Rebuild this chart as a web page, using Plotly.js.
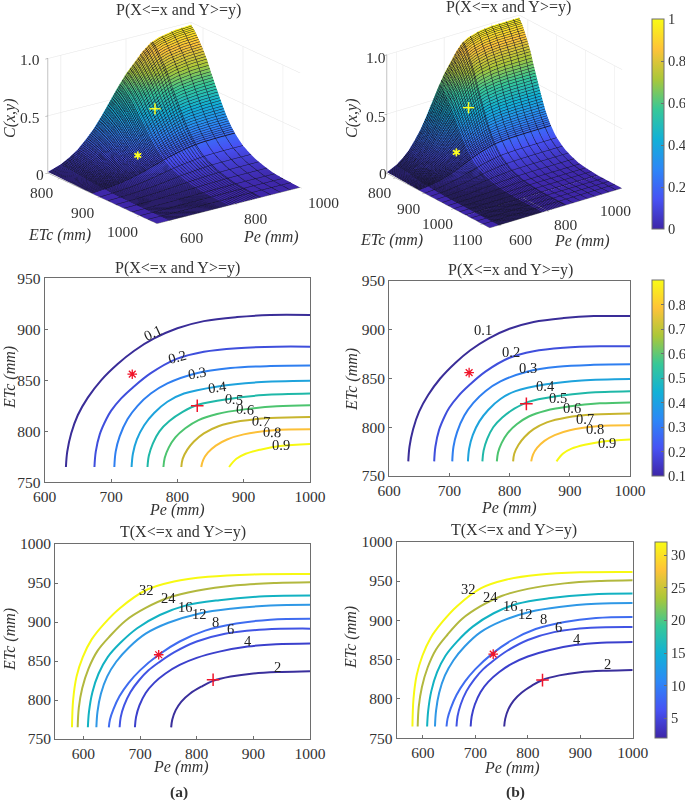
<!DOCTYPE html>
<html><head><meta charset="utf-8">
<script src="https://cdn.plot.ly/plotly-3.0.1.min.js"></script>
<style>html,body{margin:0;padding:0;background:#fff}</style>
</head><body><div id="chart" style="width:685px;height:800px"></div>
<script>
// ---------- surface values ----------
const peGrid = [560,600,625,650,675,700,725,750,775,800,825,850,875,900,950,1000,1115];
const etcGrid = [770,780,790,800,810,820,830,840,850,860,870,880,890,900,915,930,950,975,1000,1043,1125];
const surfaceZ = [
[.010,.049,.088,.137,.206,.284,.382,.490,.598,.696,.774,.853,.911,.941,.970,.980,.980],
[.009,.047,.085,.132,.197,.273,.367,.470,.573,.667,.743,.818,.874,.902,.931,.940,.940],
[.009,.044,.079,.123,.185,.255,.343,.440,.537,.625,.695,.766,.818,.845,.871,.880,.880],
[.008,.041,.073,.114,.171,.236,.318,.408,.497,.579,.644,.709,.758,.782,.807,.815,.815],
[.007,.037,.067,.104,.155,.215,.289,.370,.451,.525,.585,.644,.688,.710,.733,.740,.740],
[.006,.032,.058,.090,.135,.187,.252,.323,.393,.458,.510,.561,.600,.619,.639,.645,.645],
[.006,.028,.050,.078,.118,.162,.218,.280,.342,.398,.442,.487,.521,.538,.554,.560,.560],
[.005,.024,.043,.067,.100,.138,.185,.238,.290,.337,.375,.413,.442,.456,.470,.475,.475],
[.004,.020,.036,.055,.083,.115,.154,.198,.241,.280,.312,.344,.367,.379,.391,.395,.395],
[.003,.016,.029,.045,.067,.093,.125,.160,.195,.227,.253,.278,.298,.307,.317,.320,.320],
[.003,.013,.023,.036,.055,.075,.101,.130,.159,.185,.205,.226,.242,.250,.257,.260,.260],
[.002,.011,.019,.029,.044,.061,.082,.105,.128,.149,.166,.183,.195,.202,.208,.210,.210],
[.002,.009,.015,.024,.036,.049,.066,.085,.104,.121,.134,.148,.158,.163,.168,.170,.170],
[.001,.007,.012,.019,.028,.039,.053,.068,.082,.096,.107,.117,.126,.130,.134,.135,.135],
[.001,.005,.009,.014,.021,.029,.039,.050,.061,.071,.079,.087,.093,.096,.099,.100,.100],
[.001,.004,.006,.010,.015,.020,.027,.035,.043,.050,.055,.061,.065,.067,.069,.070,.070],
[0,.002,.004,.006,.009,.013,.018,.023,.027,.032,.036,.039,.042,.043,.045,.045,.045],
[0,.001,.002,.003,.004,.006,.008,.010,.012,.014,.016,.017,.019,.019,.020,.020,.020],
[0,.001,.001,.001,.002,.003,.004,.005,.006,.007,.008,.009,.009,.010,.010,.010,.010],
[0,0,0,0,0,0,0,0,0,0,0,0,0,0,0,0,0],
[0,0,0,0,0,0,0,0,0,0,0,0,0,0,0,0,0]
];
// marked points: [Pe, ETc, value], lifted slightly off the surface toward the viewer
const plus3dA = [803,840,0.50], star3dA = [713,870,0.207];
const plus3dB = [817,840,0.49], star3dB = [729,870,0.205];

// ---------- probability contours ----------
const probLevels = ['0.1','0.2','0.3','0.4','0.5','0.6','0.7','0.8','0.9'];
const probValues = [.1,.2,.3,.4,.5,.6,.7,.8,.9];
const probColors = ['#3a2d98','#3f4fdc','#2f7ff0','#1ea3dc','#1fb8a8','#4cc46f','#c8b52e','#fcc038','#f7f912'];
const probX = [
[632,634,640,650,665,685,710,735,765,800,840,890,940,1000],
[675,677,683,693,700,715,733,760,799,840,890,950,1000],
[705,707,713,725,740,760,785,829,880,940,1000],
[731,733,739,750,765,785,810,861,920,1000],
[755,757,763,773,788,808,831,880,930,1000],
[779,781,787,797,812,832,860,901,950,1000],
[806,808,815,825,840,862,895,940,1000],
[836,839,846,858,875,900,945,1000],
[878,889,903,925,955,1000]];
const probY = [
[765,780,798,816,833,850,866,879,891,901,908,912,914,914],
[765,780,797,812,820,832,843,857,871,878,881.5,883,883],
[765,780,795,812,825,837,847,857,862,864,864.5],
[765,778,792,806,818,829,837,844,848,849.5],
[765,776,788,800,810,819,826,832,835.5,837],
[765,774,784,794,803,811,817,821.5,824.5,825.5],
[765,773,782,790,798,805,810,813,814],
[765,772,779,786,792,797,801,802],
[765,773,778,782,785.5,787.5]];
const probLabelXA = [762.6,799,829,861,885,901.6,926.7,943,957];
const probLabelYA = [896,873,857,843,832,821.5,810.5,799,786.6];
const probLabelAngleA = [-25,-15,-10,-7,5,5,5,3,0];
const probLabelXB = [756.6,802,831,859,881,903,925,942,961];
const probLabelYB = [899.7,877.5,860.4,842,830.3,820,808,798,784];
const probPlusA = [830,825], probStarA = [732,856];
const probPlusB = [828,824], probStarB = [733,856];

// ---------- return-period contours ----------
const retLevels = ['2','4','6','8','12','16','24','32'];
const retValues = [2,4,6,8,12,16,24,32];
const retColors = ['#3a2f9c','#3b40cc','#4154e4','#3f6cf0','#2f98e6','#12b2c2','#b2b83e','#f7f912'];
const retX = [
[755,757,763,773,788,808,829,860,900,950,1000],
[691,693,699,710,725,745,770,800,840,890,940,1000],
[664,666,672,683,698,715,733,760,800,850,920,1000],
[645,647,653,664,680,700,733,770,815,870,930,1000],
[623,625,631,642,658,680,710,750,805,860,930,1000],
[608,610,616,627,643,665,695,735,780,840,920,1000],
[590,592,598,609,625,647,675,710,750,800,870,940,1000],
[580,582,588,599,615,637,665,711,760,820,900,1000]];
const retY = [
[765,775,787,798,808,817,824.5,830,834,836,837],
[765,778,793,809,822,834,845,854,862,868.5,871.5,872.5],
[765,778,793,810,825,838,848,861,875,885,890.5,891.5],
[765,775,788,805,822,838,858,875,889,898,903,904.3],
[765,785,808,830,849,867,885,899,911,917,921,922],
[765,785,810,834,855,873,892,909,921,928,933,934],
[765,790,815,840,863,882,902,918,931,940,947,950,951],
[765,800,830,855,878,898,918,941,952,958,961,961.5]];
const retLabelXA = [943,890,859,833.5,805,780.5,751,711];
const retLabelYA = [842.7,875.6,890.6,900.4,910,919.6,930.3,941];
const retLabelXB = [952,894,858,830.5,796,767.5,728,687];
const retLabelYB = [844,875.8,891.5,901.7,908.5,918.6,930,939.8];
const retPlusA = [829,826], retStarA = [733,858];
const retPlusB = [828,824], retStarB = [734,857];

const parula = [[0,'#3e26a8'],[1/7,'#4752f4'],[2/7,'#2d87f7'],[3/7,'#12b1d6'],[4/7,'#37c897'],[5/7,'#abc739'],[6/7,'#fec338'],[1,'#f9fb15']];

// ---------- page geometry ----------
const W=685,H=800,PLOT_W=645;
const SERIF='"Liberation Serif","Times New Roman",serif';
const INK='#333333', EDGE='#6e6e6e';
const px=v=>v/PLOT_W, py=v=>1-v/H;
const traces=[];
const annotations=[];
function note(x,y,text,size,extra){annotations.push(Object.assign({xref:'paper',yref:'paper',x:px(x),y:py(y),text,showarrow:false,xanchor:'center',yanchor:'middle',font:{family:SERIF,size,color:INK}},extra||{}));}

// 3-D panels
function transpose(m){return m[0].map((_,i)=>m.map(r=>r[i]));}
function surfacePanel(scene,nPe,nEtc,coloraxis,bands,plus,star){
  const pe=peGrid.slice(0,nPe), etc=etcGrid.slice(0,nEtc);
  const z=transpose(surfaceZ.slice(0,nEtc).map(r=>r.slice(0,nPe)));
  const none={show:false};
  traces.push({type:'surface',scene,x:etc,y:pe,z,coloraxis,
    lighting:{ambient:1,diffuse:0,specular:0,fresnel:0,roughness:1},hoverinfo:'skip',
    contours:{x:none,y:none,z:none}});
  bands.forEach(b=>traces.push({type:'surface',scene,x:etc,y:pe,z,hidesurface:true,showscale:false,
    colorscale:[[0,'#000'],[1,'#000']],hoverinfo:'skip',
    contours:{x:b.x?{show:true,start:b.x[0],end:b.x[1],size:b.x[2],color:'#15152a',width:1,highlight:false}:{show:false,highlight:false},
              y:b.y?{show:true,start:b.y[0],end:b.y[1],size:b.y[2],color:'#15152a',width:1,highlight:false}:{show:false,highlight:false},
              z:{show:false,highlight:false}}}));
  traces.push({type:'scatter3d',scene,mode:'text',textposition:'middle center',x:[plus[1],star[1]],y:[plus[0],star[0]],z:[plus[2],star[2]],
    text:['+','\u2731'],textfont:{family:'DejaVu Sans',size:[18,11],color:'#ffff20'},hoverinfo:'skip',showlegend:false});
}
surfacePanel('scene',16,20,'coloraxis',[{x:[772,880,2.5]},{x:[880,1040,20]},{y:[600,780,4]},{y:[780,880,8]},{y:[880,1000,30]}],plus3dA,star3dA);
surfacePanel('scene2',17,21,'coloraxis',[{x:[772,880,2.5]},{x:[880,1120,20]},{y:[600,780,4]},{y:[780,880,8]},{y:[880,1100,30]}],plus3dB,star3dB);

function sceneLayout(domX,domY,range,eye,aspect,etcTicks,peTicks){
  const ax={showbackground:false,showgrid:true,gridcolor:'#e4e4e4',gridwidth:1,zeroline:false,showspikes:false,
    showline:true,linecolor:'#888',linewidth:1,ticks:'outside',ticklen:3,tickcolor:'#888',
    showticklabels:false,title:{text:''}};
  return {domain:{x:[px(domX[0]),px(domX[1])],y:[py(domY[1]),py(domY[0])]},
    camera:{eye,center:{x:0,y:0,z:0},up:{x:0,y:0,z:1},projection:{type:'orthographic'}},
    aspectmode:'manual',aspectratio:aspect,
    xaxis:Object.assign({},ax,{range:range.etc,tickmode:'array',tickvals:etcTicks}),
    yaxis:Object.assign({},ax,{range:range.pe,tickmode:'array',tickvals:peTicks}),
    zaxis:Object.assign({},ax,{range:[0,1],tickmode:'array',tickvals:[0,.5,1]})};
}

// contour panels
function contourPanel(ax,xs,ys,colors,vals,labels,lx,ly,angles,star,plus,coloraxis){
  xs.forEach((x,i)=>traces.push({type:'scatter',mode:'lines',xaxis:'x'+ax,yaxis:'y'+ax,x,y:ys[i],
    line:{color:colors[i],width:2,shape:'spline',smoothing:1},hoverinfo:'skip',showlegend:false}));
  traces.push({type:'scatter',mode:'markers',xaxis:'x'+ax,yaxis:'y'+ax,x:lx,y:ly,
    marker:{color:vals,coloraxis,size:1,opacity:0},hoverinfo:'skip',showlegend:false});
  traces.push({type:'scatter',mode:'markers',xaxis:'x'+ax,yaxis:'y'+ax,x:[star[0]],y:[star[1]],
    marker:{symbol:'asterisk-open',size:8,color:'#f0142a',line:{color:'#f0142a',width:1.3}},hoverinfo:'skip',showlegend:false});
  traces.push({type:'scatter',mode:'markers',xaxis:'x'+ax,yaxis:'y'+ax,x:[plus[0]],y:[plus[1]],
    marker:{symbol:'cross-thin-open',size:9,color:'#f0142a',line:{color:'#f0142a',width:1.5}},hoverinfo:'skip',showlegend:false});
  labels.forEach((t,i)=>annotations.push({xref:'x'+ax,yref:'y'+ax,x:lx[i],y:ly[i],text:t,showarrow:false,
    textangle:angles?angles[i]:0,font:{family:SERIF,size:14.5,color:'#222'},xanchor:'center',yanchor:'middle'}));
}
contourPanel('',probX,probY,probColors,probValues,probLevels,probLabelXA,probLabelYA,probLabelAngleA,probStarA,probPlusA,'coloraxis2');
contourPanel('2',probX,probY,probColors,probValues,probLevels,probLabelXB,probLabelYB,null,probStarB,probPlusB,'coloraxis2');
contourPanel('3',retX,retY,retColors,retValues,retLevels,retLabelXA,retLabelYA,null,retStarA,retPlusA,'coloraxis3');
contourPanel('4',retX,retY,retColors,retValues,retLevels,retLabelXB,retLabelYB,null,retStarB,retPlusB,'coloraxis3');

function cart(left,right,top,bottom,range,tick){
  const a={showline:true,mirror:true,linecolor:EDGE,linewidth:1,ticks:'inside',ticklen:3,tickcolor:EDGE,showgrid:false,zeroline:false,
    tickfont:{family:SERIF,size:15.5,color:INK},fixedrange:true};
  return [Object.assign({},a,{domain:[px(left),px(right)],range:range[0],tickvals:tick[0],ticktext:tick[0].map(String)}),
          Object.assign({},a,{domain:[py(bottom),py(top)],range:range[1],tickvals:tick[1],ticktext:tick[1].map(String)})];
}
const xP=[600,700,800,900,1000], yP=[750,800,850,900,950];
const xT=[600,700,800,900,1000], yT=[750,800,850,900,950,1000];
function setAxes(l,suffix,g){
  g[0].anchor='y'+suffix; g[1].anchor='x'+suffix;
  l['xaxis'+suffix]=g[0]; l['yaxis'+suffix]=g[1];
}
function bar(top,bottom,left,thick,vals,labels){
  return {x:left/W,xanchor:'left',xref:'container',y:py(bottom),yanchor:'bottom',yref:'container',len:bottom-top,lenmode:'pixels',
    thickness:thick,thicknessmode:'pixels',outlinecolor:EDGE,outlinewidth:1,borderwidth:0,xpad:0,ypad:0,
    ticks:'inside',ticklen:3,tickcolor:EDGE,tickmode:'array',tickvals:vals,ticktext:labels,
    tickfont:{family:SERIF,size:14.5,color:INK}};
}
const layout={width:W,height:H,margin:{l:0,r:W-PLOT_W,t:0,b:0,pad:0},paper_bgcolor:'#fff',plot_bgcolor:'#fff',showlegend:false,annotations,
  scene:sceneLayout([6,342],[0,246],{etc:[770,1043],pe:[560,1000]},{x:1.24,y:-.915,z:.562},{x:1.167*192/150,y:1.167*186/150,z:1.249*119/150},[800,900,1000],[600,800,1000]),
  scene2:sceneLayout([367,642],[0,243],{etc:[770,1125],pe:[560,1115]},{x:1.20,y:-.903,z:.654},{x:1.225*172.5/150,y:1.225*166.8/150,z:1.277*125/150},[800,900,1000,1100],[600,800,1000]),
  coloraxis:{colorscale:parula,cmin:0,cmax:1,colorbar:bar(19.5,229,652,12,[0,.2,.4,.6,.8,1],['0','0.2','0.4','0.6','0.8','1'])},
  coloraxis2:{colorscale:parula,cmin:.1,cmax:.9,colorbar:bar(280,476,652,12,[.1,.2,.3,.4,.5,.6,.7,.8],['0.1','0.2','0.3','0.4','0.5','0.6','0.7','0.8'])},
  coloraxis3:{colorscale:parula,cmin:2,cmax:32,colorbar:bar(541.7,738,655,12,[5,10,15,20,25,30],['5','10','15','20','25','30'])}
};
setAxes(layout,'',cart(44.7,310,278.3,482.3,[[600,1000],[750,950]],[xP,yP]));
setAxes(layout,'2',cart(389,630,281,476,[[600,1000],[750,950]],[xP,yP]));
setAxes(layout,'3',cart(55,310,544,739,[[550,1000],[750,1000]],[xT,yT]));
setAxes(layout,'4',cart(396.7,632.7,541.7,738.3,[[550,1000],[750,1000]],[xT,yT]));

const probTitle='P(X&lt;=x and Y&gt;=y)', retTitle='T(X&lt;=x and Y&gt;=y)';
const TS=16;
note(178,10,probTitle,TS); note(508,7,probTitle,TS);
note(177,268,probTitle,TS); note(510,270,probTitle,TS);
note(183,532,retTitle,TS); note(514,530,retTitle,TS);
const PE='<i>Pe (mm)</i>', ET='<i>ETc (mm)</i>', CXY='<i>C(x,y)</i>';
note(271,237,PE,16); note(582,241,PE,16);
note(59,235,ET,16); note(391,240,ET,16);
note(10,118,CXY,16,{textangle:-90}); note(352,118,CXY,16,{textangle:-90});
note(177,510,PE,16); note(509,508,PE,16);
note(181,767,PE,16); note(512,768,PE,16);
note(10,378,ET,16,{textangle:-90}); note(352,380,ET,16,{textangle:-90});
note(10,640,ET,16,{textangle:-90}); note(351,638,ET,16,{textangle:-90});
note(179,792,'<b>(a)</b>',15.5); note(515,792,'<b>(b)</b>',15.5);

// tick labels of the 3-D panels
const tick3dA=[['1.0',30,60],['0.5',30,118],['0',40,174],['800',42,193],['900',83,212],['1000',122,231],['600',192,237],['800',256,219],['1000',323,203]];
const tick3dB=[['1.0',376,57],['0.5',376,116],['0',383,173],['800',380,192],['900',409,208],['1000',437,223],['1100',467,239],['600',521,239],['800',566,224],['1000',615,211]];
tick3dA.concat(tick3dB).forEach(t=>note(t[1],t[2],t[0],15.5));

Plotly.newPlot('chart',traces,layout,{displayModeBar:false,responsive:false});
</script></body></html>
